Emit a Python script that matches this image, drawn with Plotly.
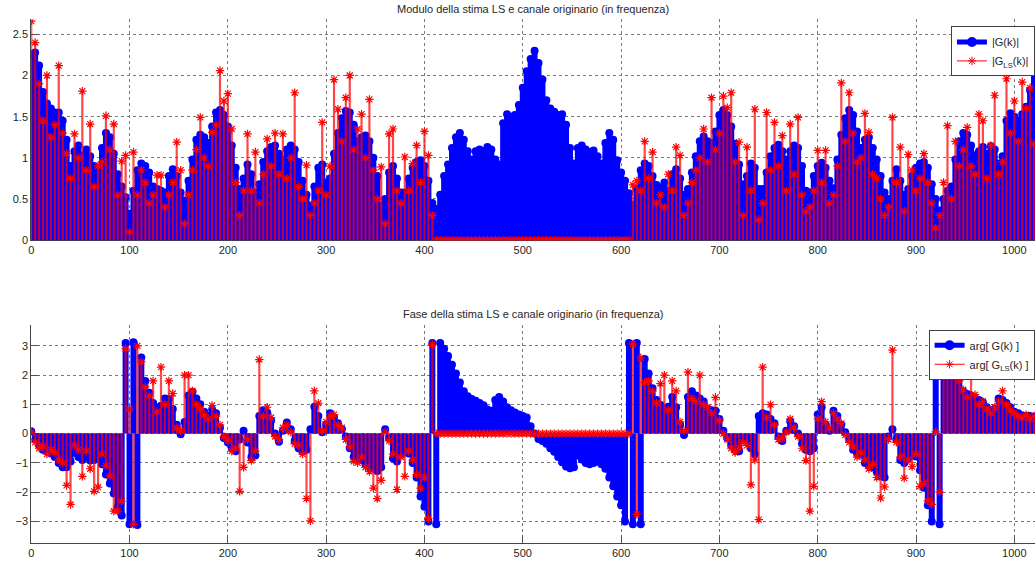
import plotly.graph_objects as go

# frequency index (every 4th bin of the 1024-point grid)
K = list(range(0, 1024, 4))

# |G(k)| true channel magnitude
G_MAG = [
    2.26, 2.28, 2.12, 1.80, 1.66, 1.60, 1.55, 1.55, 1.45, 1.22, 0.90, 1.08, 1.15, 1.03, 1.10, 1.02,
    0.90, 0.88, 1.12, 1.30, 1.25, 1.05, 0.80, 0.65, 0.52, 0.32, 0.60, 0.85, 0.93, 0.90, 0.82, 0.65,
    0.62, 0.60, 0.58, 0.78, 0.86, 0.78, 0.58, 0.48, 0.72, 0.98, 1.22, 1.28, 1.25, 1.18, 1.38, 1.55,
    1.58, 1.52, 1.38, 1.15, 0.88, 0.62, 0.75, 0.92, 0.80, 0.58, 0.68, 0.95, 1.08, 1.13, 1.15, 1.05,
    0.98, 1.10, 1.15, 1.10, 0.95, 0.72, 0.55, 0.42, 0.65, 0.88, 0.92, 0.70, 0.75, 1.05, 1.30, 1.48,
    1.57, 1.55, 1.40, 1.20, 1.25, 1.27, 1.20, 1.00, 0.78, 0.42, 0.50, 0.82, 0.90, 0.75, 0.58, 0.58,
    0.75, 0.88, 0.95, 0.97, 0.90, 0.72, 0.45, 0.38, 0.55, 0.78, 0.92, 1.12, 1.25, 1.30, 1.22, 1.08,
    0.98, 1.08, 1.10, 1.08, 1.13, 1.10, 0.98, 0.92, 1.42, 1.53, 1.50, 1.52, 1.64, 1.85, 2.05, 2.20,
    2.30, 2.15, 1.95, 1.70, 1.60, 1.56, 1.52, 1.53, 1.40, 1.12, 0.93, 1.12, 1.15, 1.10, 1.07, 1.09,
    1.02, 0.93, 1.18, 1.30, 1.22, 0.97, 0.82, 0.72, 0.57, 0.43, 0.62, 0.85, 0.93, 0.90, 0.78, 0.67,
    0.64, 0.70, 0.60, 0.80, 0.86, 0.75, 0.55, 0.62, 0.82, 1.02, 1.20, 1.26, 1.20, 1.18, 1.32, 1.52,
    1.58, 1.52, 1.38, 1.17, 0.92, 0.68, 0.78, 0.93, 0.88, 0.62, 0.62, 0.82, 1.02, 1.12, 1.16, 1.08,
    0.98, 1.08, 1.15, 1.12, 0.90, 0.60, 0.58, 0.78, 0.90, 0.94, 0.88, 0.72, 0.63, 0.98, 1.28, 1.48,
    1.58, 1.52, 1.32, 1.12, 1.22, 1.25, 1.12, 0.98, 0.78, 0.58, 0.50, 0.72, 0.86, 0.72, 0.55, 0.62,
    0.78, 0.88, 0.93, 0.95, 0.88, 0.68, 0.50, 0.36, 0.50, 0.60, 0.65, 0.98, 1.20, 1.30, 1.28, 1.15,
    1.03, 1.08, 1.13, 1.05, 1.14, 1.10, 0.93, 1.02, 1.45, 1.54, 1.50, 1.45, 1.53, 1.62, 1.82, 2.20,
]

# |G_LS(k)| least-squares estimate magnitude (zero on the guard band)
LS_MAG = [
    2.66, 2.40, 1.90, 1.45, 2.00, 1.25, 1.40, 2.12, 1.30, 1.05, 0.75, 1.29, 1.00, 1.81, 0.85, 1.41,
    0.65, 0.90, 0.95, 1.51, 1.10, 1.41, 0.55, 0.96, 1.03, 0.10, 1.07, 0.55, 0.85, 0.70, 0.45, 0.55,
    0.79, 0.79, 0.40, 0.55, 0.70, 1.19, 0.85, 0.20, 0.55, 0.85, 1.10, 1.49, 1.00, 0.90, 1.31, 1.40,
    2.06, 1.69, 1.78, 1.35, 0.70, 0.30, 0.60, 1.29, 0.60, 1.07, 0.45, 0.80, 1.23, 0.90, 1.30, 0.80,
    1.29, 0.75, 1.00, 1.79, 0.65, 0.50, 0.91, 0.30, 0.45, 0.60, 1.43, 0.55, 0.90, 1.95, 1.59, 1.20,
    1.73, 2.00, 1.10, 1.35, 1.53, 1.00, 1.71, 0.85, 0.50, 0.89, 0.20, 1.29, 1.35, 0.60, 0.45, 1.01,
    0.60, 0.93, 1.15, 0.70, 1.32, 1.03, 0.30, 0.00, 0.00, 0.00, 0.00, 0.00, 0.00, 0.00, 0.00, 0.00,
    0.00, 0.00, 0.00, 0.00, 0.00, 0.00, 0.00, 0.00, 0.00, 0.00, 0.00, 0.00, 0.00, 0.00, 0.00, 0.00,
    0.00, 0.00, 0.00, 0.00, 0.00, 0.00, 0.00, 0.00, 0.00, 0.00, 0.00, 0.00, 0.00, 0.00, 0.00, 0.00,
    0.00, 0.00, 0.00, 0.00, 0.00, 0.00, 0.00, 0.00, 0.00, 0.67, 0.72, 0.60, 1.20, 0.75, 1.07, 0.45,
    0.55, 0.40, 0.80, 0.60, 1.13, 1.03, 0.30, 0.45, 0.70, 0.85, 1.00, 1.35, 0.95, 1.73, 1.10, 1.30,
    1.75, 1.61, 1.79, 0.95, 1.19, 0.30, 1.13, 0.60, 1.59, 0.25, 0.45, 1.55, 0.85, 1.43, 0.90, 1.27,
    0.60, 1.41, 0.80, 1.49, 0.55, 0.35, 0.40, 0.60, 1.09, 0.70, 1.09, 0.45, 0.55, 0.90, 1.91, 1.20,
    1.79, 1.30, 0.95, 1.00, 1.54, 1.31, 0.80, 0.75, 0.50, 0.30, 0.40, 1.49, 0.70, 1.13, 0.35, 1.04,
    0.85, 0.60, 0.75, 1.05, 0.70, 0.45, 0.15, 0.30, 0.70, 1.39, 0.50, 1.20, 0.90, 1.10, 1.37, 0.90,
    0.80, 1.53, 1.45, 0.75, 1.15, 1.76, 0.80, 0.95, 1.96, 1.30, 1.69, 1.20, 1.92, 1.60, 1.85, 1.17,
]

# arg[G(k)] true channel phase (rad)
G_PH = [
    0.08, -0.20, -0.40, -0.55, -0.60, -0.68, -0.80, -1.00, -1.15, -1.15, -0.95, -0.65, -0.80, -0.90, -0.78, -0.92,
    -0.90, -0.85, -1.05, -1.40, -1.70, -2.05, -2.50, -2.80, 3.10, -3.10, 3.12, -3.12, 2.60, 1.80, 1.40, 1.05,
    0.88, 0.95, 1.20, 1.18, 0.84, 0.30, -0.02, 0.40, 1.30, 1.42, 1.20, 1.00, 0.75, 0.60, 0.82, 0.70,
    0.20, -0.15, -0.30, -0.48, -0.60, -0.20, 0.10, -0.30, -0.80, -0.75, 0.60, 0.80, 0.72, 0.45, 0.00, -0.28,
    0.10, 0.38, 0.15, -0.25, -0.50, -0.60, -0.55, 0.15, 0.92, 0.60, 0.05, 0.30, 0.70, 0.55, 0.35, 0.15,
    -0.10, -0.50, -0.80, -0.85, -0.90, -1.05, -1.15, -1.20, -1.28, -1.15, 0.15, -0.15, -0.85, -0.95, -0.72, -0.62,
    -0.68, -1.00, -1.50, -2.15, -2.50, -3.00, 3.10, -3.10, 3.10, 2.90, 2.65, 2.35, 2.05, 1.75, 1.45, 1.28,
    1.18, 1.12, 1.05, 0.97, 0.82, 0.78, 1.15, 1.25, 1.10, 0.90, 0.80, 0.72, 0.65, 0.60, 0.55, 0.25,
    0.00, -0.18, -0.25, -0.35, -0.50, -0.62, -0.80, -0.98, -1.12, -1.18, -1.15, -0.75, -0.88, -1.00, -1.05, -1.00,
    -0.95, -1.05, -1.20, -1.50, -1.80, -2.15, -2.45, -3.00, 3.10, -3.10, 3.10, -3.10, 2.55, 2.05, 1.55, 1.15,
    0.98, 0.85, 0.92, 1.25, 0.90, 0.30, -0.05, 1.25, 1.45, 1.30, 1.20, 1.10, 0.85, 0.80, 0.78, 0.50,
    0.10, -0.15, -0.40, -0.55, -0.60, -0.20, -0.25, -0.50, -0.70, 0.60, 0.70, 0.65, 0.50, 0.35, -0.10, -0.25,
    0.10, 0.42, 0.25, 0.00, -0.35, -0.55, -0.60, -0.50, 0.65, 0.90, 0.30, 0.10, 0.78, 0.60, 0.30, 0.05,
    -0.20, -0.55, -0.68, -0.72, -1.00, -1.10, -1.15, -1.30, -1.45, -1.50, -0.10, 0.15, -0.20, -0.90, -1.00, -0.85,
    -0.75, -0.78, -1.25, -1.85, -2.45, -3.00, 3.10, -3.10, 3.05, 2.70, 2.45, 2.20, 1.95, 1.45, 1.35, 1.30,
    1.20, 1.15, 1.07, 0.90, 0.78, 0.85, 1.20, 1.15, 1.05, 0.90, 0.75, 0.70, 0.62, 0.60, 0.60, 0.58,
]

# arg[G_LS(k)] least-squares estimate phase (rad, zero on the guard band)
LS_PH = [
    0.05, -0.30, -0.50, -0.45, -0.70, -0.55, -0.65, -0.90, -1.00, -1.77, -2.42, -0.40, -0.55, -1.46, -0.60, -1.20,
    -1.97, -1.83, -0.70, -1.10, -1.45, -2.65, -2.65, -2.31, 2.90, 0.84, -3.10, 3.00, 2.45, 1.60, 1.30, 1.80,
    0.75, 2.27, 1.00, 1.80, 1.37, 0.20, 0.10, 2.00, 2.00, 1.46, 1.00, 0.85, 0.65, 0.50, 0.96, 0.60,
    0.30, -0.10, -0.25, -0.60, -0.50, -1.97, -1.15, -0.20, -0.92, -0.60, 2.53, 0.60, 0.90, 0.55, -0.10, -0.20,
    0.20, 0.30, 0.05, -0.35, -0.40, -0.70, -2.22, -2.98, 1.46, 1.04, 0.10, 0.40, 0.60, 0.65, 0.30, 0.20,
    -0.20, -0.45, -0.95, -1.00, -0.80, -1.15, -1.30, -1.86, -2.22, -1.60, 0.05, -0.25, -0.70, -1.91, -0.80, -1.46,
    -0.60, -0.90, -1.40, -1.86, -1.50, -2.90, 3.04, 0.00, 0.00, 0.00, 0.00, 0.00, 0.00, 0.00, 0.00, 0.00,
    0.00, 0.00, 0.00, 0.00, 0.00, 0.00, 0.00, 0.00, 0.00, 0.00, 0.00, 0.00, 0.00, 0.00, 0.00, 0.00,
    0.00, 0.00, 0.00, 0.00, 0.00, 0.00, 0.00, 0.00, 0.00, 0.00, 0.00, 0.00, 0.00, 0.00, 0.00, 0.00,
    0.00, 0.00, 0.00, 0.00, 0.00, 0.00, 0.00, 0.00, 0.00, 3.06, -2.76, 2.59, 1.75, 1.80, 1.45, 1.05,
    1.71, 2.00, 0.80, 1.80, 1.46, 0.40, 0.10, 2.10, 1.20, 1.10, 2.00, 1.00, 0.90, 0.70, 1.24, 0.45,
    0.00, -0.20, -0.50, -0.65, -0.50, -0.30, -0.40, -1.75, -0.90, -2.94, 2.27, 0.55, 0.99, 0.30, -0.20, -0.15,
    0.05, 0.50, 0.20, -0.10, -0.50, -0.92, -2.65, -1.80, 0.50, 1.09, 0.40, 0.20, 0.70, 0.50, 0.35, -0.05,
    -0.30, -0.45, -0.80, -0.65, -0.90, -1.20, -1.05, -1.50, -2.20, -1.82, -0.20, 2.85, -0.30, -0.80, -1.52, -0.90,
    -1.13, -0.70, -1.80, -1.70, -2.30, -2.42, 0.06, -2.00, 2.90, 2.50, 2.30, 2.05, 1.80, 1.50, 1.25, 2.00,
    1.33, 1.00, 1.10, 0.85, 0.70, 0.90, 1.10, 1.46, 1.00, 0.80, 0.70, 0.60, 0.55, 0.65, 0.50, 0.60,
]

X_TICKS = [0, 100, 200, 300, 400, 500, 600, 700, 800, 900, 1000]
MAG_TICKS = [0, 0.5, 1, 1.5, 2, 2.5]
PH_TICKS = [-3, -2, -1, 0, 1, 2, 3]

TITLE_MAG = "Modulo della stima LS e canale originario (in frequenza)"
TITLE_PH = "Fase della stima LS e canale originario (in frequenza)"

BLUE = "#0000FF"
RED = "#FF0000"
RED_STEM = "rgba(255,0,0,0.72)"
FONT = "Liberation Sans, Arial, Helvetica, sans-serif"
TXT = "#262626"

W, H = 1035, 568


def stems(k, v):
    xs, ys = [], []
    for a, b in zip(k, v):
        xs += [a, a, None]
        ys += [0, b, None]
    return xs, ys


fig = go.Figure()


def add_stem_pair(g, ls, xa, ya, leg, name_g, name_ls):
    gx, gy = stems(K, g)
    lx, ly = stems(K, ls)
    fig.add_trace(go.Scatter(x=gx, y=gy, mode="lines", xaxis=xa, yaxis=ya,
                             line=dict(color=BLUE, width=6), showlegend=False, hoverinfo="skip"))
    fig.add_trace(go.Scatter(x=K, y=g, mode="markers", xaxis=xa, yaxis=ya,
                             marker=dict(color=BLUE, size=8, symbol="circle", line=dict(width=0)),
                             showlegend=False))
    fig.add_trace(go.Scatter(x=lx, y=ly, mode="lines", xaxis=xa, yaxis=ya,
                             line=dict(color=RED_STEM, width=2.2), showlegend=False, hoverinfo="skip"))
    fig.add_trace(go.Scatter(x=K, y=ls, mode="markers", xaxis=xa, yaxis=ya,
                             marker=dict(color=RED, size=7, symbol="asterisk-open",
                                         line=dict(color=RED, width=1.2)),
                             showlegend=False))
    # legend entries
    fig.add_trace(go.Scatter(x=[None], y=[None], mode="lines+markers", xaxis=xa, yaxis=ya,
                             name=name_g, legend=leg,
                             line=dict(color=BLUE, width=5),
                             marker=dict(color=BLUE, size=10, symbol="circle")))
    fig.add_trace(go.Scatter(x=[None], y=[None], mode="lines+markers", xaxis=xa, yaxis=ya,
                             name=name_ls, legend=leg,
                             line=dict(color=RED, width=1),
                             marker=dict(color=RED, size=7, symbol="asterisk-open",
                                         line=dict(color=RED, width=1))))


add_stem_pair(G_MAG, LS_MAG, "x", "y", "legend", "|G(k)|", "|G<sub>LS</sub>(k)|")
add_stem_pair(G_PH, LS_PH, "x2", "y2", "legend2", "arg[ G(k) ]", "arg[ G<sub>LS</sub>(k) ]")

x0 = 28.3 / W
xaxis_common = dict(
    domain=[x0, 1.0], range=[0, 1021], tickvals=X_TICKS, ticks="inside", ticklen=8,
    tickcolor="#555555", showline=True, linecolor="#444444", linewidth=1, mirror=False,
    showgrid=True, gridcolor="#7a7a7a", gridwidth=1, griddash="dot", zeroline=False,
    tickfont=dict(family=FONT, size=11, color=TXT), layer="below traces",
)
yaxis_common = dict(
    ticks="inside", ticklen=8, tickcolor="#555555", showline=True, linecolor="#444444",
    linewidth=1, mirror=False, showgrid=True, gridcolor="#7a7a7a", gridwidth=1,
    griddash="dot", zeroline=False, tickfont=dict(family=FONT, size=11, color=TXT),
    layer="below traces",
)

fig.update_layout(
    width=W, height=H, margin=dict(l=0, r=0, t=0, b=0),
    paper_bgcolor="white", plot_bgcolor="white",
    font=dict(family=FONT, size=11, color=TXT),
    xaxis=dict(anchor="y", **xaxis_common),
    yaxis=dict(anchor="x", domain=[(H - 242.7) / H, (H - 19.7) / H], range=[0, 2.68],
               tickvals=MAG_TICKS, ticktext=["0", "0.5", "1", "1.5", "2", "2.5"], **yaxis_common),
    xaxis2=dict(anchor="y2", **xaxis_common),
    yaxis2=dict(anchor="x2", domain=[(H - 548.3) / H, (H - 328.2) / H], range=[-3.72, 3.72],
                tickvals=PH_TICKS, **yaxis_common),
    legend=dict(x=950.7 / W, y=(H - 26.7) / H, xanchor="left", yanchor="top",
                bgcolor="white", bordercolor="#404040", borderwidth=1,
                font=dict(family=FONT, size=11, color=TXT), tracegroupgap=0),
    legend2=dict(x=928.3 / W, y=(H - 333.3) / H, xanchor="left", yanchor="top",
                 bgcolor="white", bordercolor="#404040", borderwidth=1,
                 font=dict(family=FONT, size=11, color=TXT), tracegroupgap=0),
    annotations=[
        dict(text=TITLE_MAG, x=532 / W, y=(H - 9) / H, xref="paper", yref="paper",
             showarrow=False, xanchor="center", yanchor="middle",
             font=dict(family=FONT, size=11, color=TXT)),
        dict(text=TITLE_PH, x=532 / W, y=(H - 317) / H, xref="paper", yref="paper",
             showarrow=False, xanchor="center", yanchor="middle",
             font=dict(family=FONT, size=11, color=TXT)),
    ],
)

fig.write_html("out.html")
